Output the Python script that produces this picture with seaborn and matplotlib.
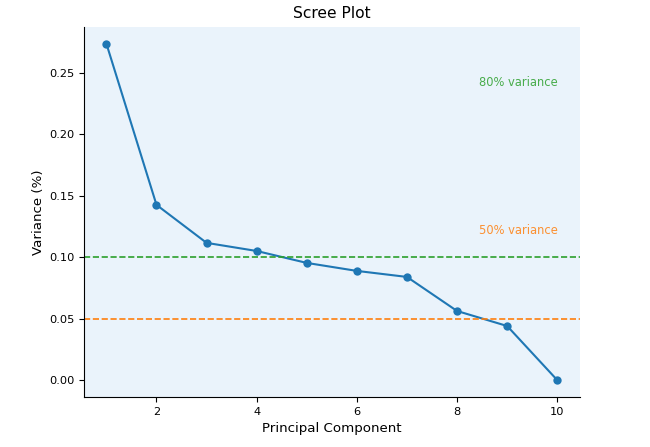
import matplotlib
matplotlib.use("Agg")
import matplotlib.pyplot as plt
import pandas as pd
import seaborn as sns

# Explained variance per principal component
components = [1, 2, 3, 4, 5, 6, 7, 8, 9, 10]
variance = [0.2736, 0.1425, 0.1116, 0.1050, 0.0953, 0.0888, 0.0839, 0.0562, 0.0440, 0.0]

# Reference lines and their labels
line_levels = [0.10, 0.05]
line_colors = ["tab:green", "tab:orange"]
label_texts = ["80% variance", "50% variance"]
label_x = [8.43, 8.43]
label_y = [0.242, 0.122]

df = pd.DataFrame({"component": components, "variance": variance})

fig, ax = plt.subplots(figsize=(6.5, 4.47), dpi=100)
fig.subplots_adjust(left=0.129, right=0.892, top=0.94, bottom=0.112)

sns.lineplot(data=df, x="component", y="variance", marker="o", markersize=6,
             markeredgewidth=0, color="tab:blue", ax=ax)

for level, color in zip(line_levels, line_colors):
    ax.axhline(level, color=color, linestyle="--", linewidth=1.2)

for x, y, txt, color in zip(label_x, label_y, label_texts, line_colors):
    ax.text(x, y, txt, color=color, fontsize=8.3, alpha=0.85, va="center")

ax.set_facecolor("#EAF3FB")
ax.spines["top"].set_visible(False)
ax.spines["right"].set_visible(False)
ax.set_title("Scree Plot", fontsize=11.2)
ax.set_xlabel("Principal Component", fontsize=9.6)
ax.set_ylabel("Variance (%)", fontsize=9.6, labelpad=2.5)
ax.set_xticks([2, 4, 6, 8, 10])
ax.tick_params(labelsize=8.2)

fig.savefig("out.png", dpi=100)
